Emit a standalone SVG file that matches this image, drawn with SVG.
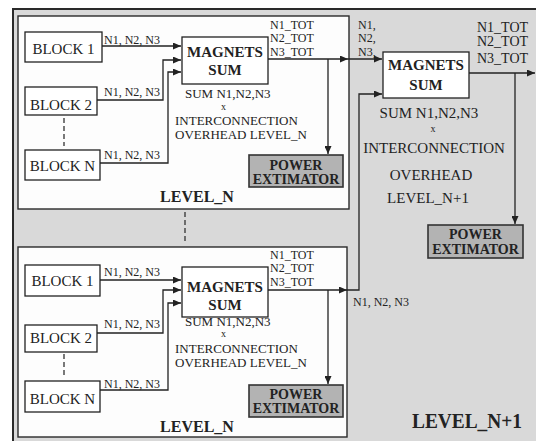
<svg xmlns="http://www.w3.org/2000/svg" width="536" height="441" viewBox="0 0 536 441">
<style>
.bg{fill:#d9d9d9;stroke:#2a2a2a;stroke-width:2}
.lvl{fill:#fdfdfd;stroke:#2a2a2a;stroke-width:1.4}
.box{fill:#ffffff;stroke:#222;stroke-width:1.3}
.pwr{fill:#b3b3b3;stroke:#333;stroke-width:1.6}
.t{font-family:"Liberation Serif",serif;fill:#222}
.blk{font-size:15px}
.lab{font-size:12px}
.mag{font-size:15px;font-weight:bold}
.sub{font-size:13px}
.x{font-size:10px}
.pt{font-size:14px;font-weight:bold}
.lv{font-size:16px;font-weight:bold}
.big{font-size:15px}
.tot{font-size:14px}
.c{fill:none;stroke:#222;stroke-width:1.3}
.d{fill:none;stroke:#333;stroke-width:1.3;stroke-dasharray:5,3}
</style>
<defs>
<marker id="ah" markerWidth="9" markerHeight="7" refX="8" refY="3.5" orient="auto" markerUnits="userSpaceOnUse">
<path d="M0,0 L8,3.5 L0,7 z" fill="#222"/>
</marker>
</defs>
<rect class="bg" x="13" y="9" width="530" height="440"/>
<g id="levelN-top">
<rect class="lvl" x="18" y="16" width="331" height="193"/>
<text class="t lv" x="197" y="202" text-anchor="middle">LEVEL_N</text>
</g>
<g id="levelN-bottom">
<rect class="lvl" x="18" y="247" width="329" height="190"/>
<text class="t lv" x="197" y="432" text-anchor="middle">LEVEL_N</text>
</g>
<g id="block1-top"><rect class="box" x="25" y="32" width="77" height="30"/><text class="t blk" x="63.5" y="54" text-anchor="middle">BLOCK 1</text></g>
<g id="block2-top"><rect class="box" x="25" y="87" width="72" height="28"/><text class="t blk" x="61" y="110" text-anchor="middle">BLOCK 2</text></g>
<g id="blockN-top"><rect class="box" x="25" y="150" width="75" height="30"/><text class="t blk" x="62.5" y="171" text-anchor="middle">BLOCK N</text></g>
<g id="magnets-top"><rect class="box" x="182" y="37" width="86" height="47"/><text class="t mag" x="225" y="57" text-anchor="middle">MAGNETS</text><text class="t mag" x="225" y="75" text-anchor="middle">SUM</text></g>
<g id="power-top"><rect class="pwr" x="249" y="155" width="94" height="32"/><text class="t pt" x="296" y="170" text-anchor="middle">POWER</text><text class="t pt" x="296" y="184" text-anchor="middle">EXTIMATOR</text></g>
<g id="block1-bot"><rect class="box" x="25" y="265" width="75" height="31"/><text class="t blk" x="62.5" y="286" text-anchor="middle">BLOCK 1</text></g>
<g id="block2-bot"><rect class="box" x="25" y="325" width="72" height="27"/><text class="t blk" x="61" y="343" text-anchor="middle">BLOCK 2</text></g>
<g id="blockN-bot"><rect class="box" x="25" y="381" width="75" height="31"/><text class="t blk" x="62.5" y="404" text-anchor="middle">BLOCK N</text></g>
<g id="magnets-bot"><rect class="box" x="182" y="267" width="86" height="50"/><text class="t mag" x="225" y="292" text-anchor="middle">MAGNETS</text><text class="t mag" x="225" y="310" text-anchor="middle">SUM</text></g>
<g id="power-bot"><rect class="pwr" x="249" y="385" width="94" height="32"/><text class="t pt" x="296" y="399" text-anchor="middle">POWER</text><text class="t pt" x="296" y="413" text-anchor="middle">EXTIMATOR</text></g>
<g id="magnets-n1"><rect class="box" x="383" y="52" width="86" height="46"/><text class="t mag" x="426" y="70" text-anchor="middle">MAGNETS</text><text class="t mag" x="426" y="90" text-anchor="middle">SUM</text></g>
<g id="power-n1"><rect class="pwr" x="428" y="225" width="95" height="33"/><text class="t pt" x="475.5" y="239" text-anchor="middle">POWER</text><text class="t pt" x="475.5" y="254" text-anchor="middle">EXTIMATOR</text></g>
<g id="connectors">
<path class="c" d="M102,46 H181" marker-end="url(#ah)"/>
<path class="c" d="M97,100 H163 V60 H181" marker-end="url(#ah)"/>
<path class="c" d="M100,163 H168 V72 H181" marker-end="url(#ah)"/>
<path class="d" d="M64,118 V146"/>
<path class="c" d="M268,59 H348" marker-end="url(#ah)"/>
<path class="c" d="M348,59 H382" marker-end="url(#ah)"/>
<path class="c" d="M328,59 V154" marker-end="url(#ah)"/>
<path class="d" d="M185,212 V243"/>
<path class="c" d="M100,280 H181" marker-end="url(#ah)"/>
<path class="c" d="M97,333 H163 V290 H181" marker-end="url(#ah)"/>
<path class="c" d="M100,390 H168 V303 H181" marker-end="url(#ah)"/>
<path class="d" d="M64,354 V378"/>
<path class="c" d="M268,290 H347" marker-end="url(#ah)"/>
<path class="c" d="M347,290 H359 V94 H382" marker-end="url(#ah)"/>
<path class="c" d="M328,290 V384" marker-end="url(#ah)"/>
<path class="c" d="M469,73 H535" marker-end="url(#ah)"/>
<path class="c" d="M515,73 V224" marker-end="url(#ah)"/>
</g>
<g id="labels">
<text class="t lab" x="104" y="44">N1, N2, N3</text>
<text class="t lab" x="104" y="96">N1, N2, N3</text>
<text class="t lab" x="104" y="159">N1, N2, N3</text>
<text class="t lab" x="270" y="29">N1_TOT</text>
<text class="t lab" x="270" y="42">N2_TOT</text>
<text class="t lab" x="270" y="56">N3_TOT</text>
<text class="t sub" x="185" y="98">SUM N1,N2,N3</text>
<text class="t x" x="221" y="110">x</text>
<text class="t sub" x="175" y="125">INTERCONNECTION</text>
<text class="t sub" x="175" y="139">OVERHEAD LEVEL_N</text>
<text class="t lab" x="358" y="29">N1,</text>
<text class="t lab" x="358" y="42">N2,</text>
<text class="t lab" x="358" y="56">N3,</text>
<text class="t tot" x="477" y="32">N1_TOT</text>
<text class="t tot" x="477" y="46">N2_TOT</text>
<text class="t tot" x="477" y="63">N3_TOT</text>
<text class="t big" x="429" y="118" text-anchor="middle">SUM N1,N2,N3</text>
<text class="t x" x="433" y="132" text-anchor="middle">x</text>
<text class="t big" x="434" y="153" text-anchor="middle">INTERCONNECTION</text>
<text class="t big" x="431" y="180" text-anchor="middle">OVERHEAD</text>
<text class="t big" x="428" y="203" text-anchor="middle">LEVEL_N+1</text>
<text class="t lab" x="104" y="276">N1, N2, N3</text>
<text class="t lab" x="104" y="328">N1, N2, N3</text>
<text class="t lab" x="104" y="388">N1, N2, N3</text>
<text class="t lab" x="270" y="259">N1_TOT</text>
<text class="t lab" x="270" y="272">N2_TOT</text>
<text class="t lab" x="270" y="286">N3_TOT</text>
<text class="t sub" x="185" y="326">SUM N1,N2,N3</text>
<text class="t x" x="221" y="337">x</text>
<text class="t sub" x="175" y="353">INTERCONNECTION</text>
<text class="t sub" x="175" y="367">OVERHEAD LEVEL_N</text>
<text class="t lab" x="353" y="306">N1, N2, N3</text>
<text class="t" x="467" y="428" text-anchor="middle" style="font-size:20px;font-weight:bold" textLength="110" lengthAdjust="spacingAndGlyphs">LEVEL_N+1</text>
</g>
</svg>
